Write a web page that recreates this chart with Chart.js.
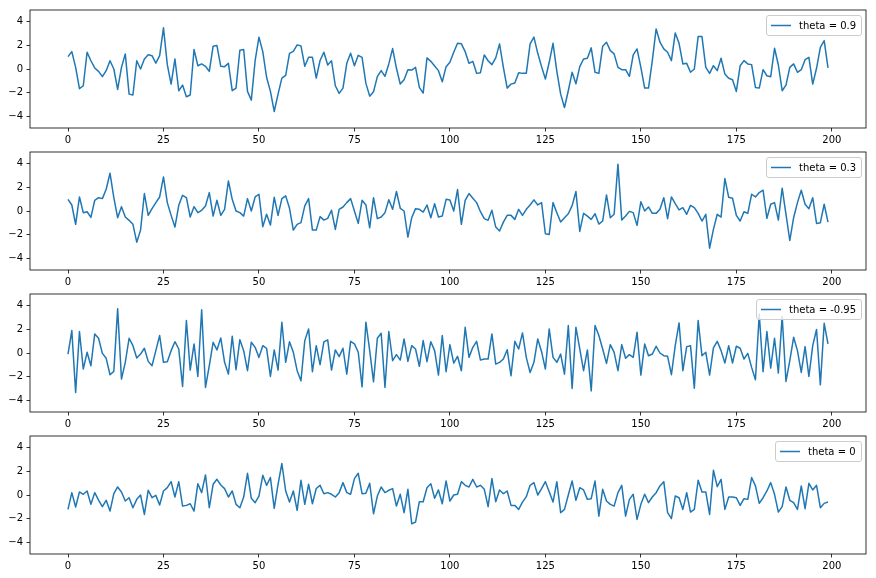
<!DOCTYPE html>
<html>
<head>
<meta charset="utf-8">
<script src="https://cdn.jsdelivr.net/npm/chart.js@4.4.1/dist/chart.umd.min.js"></script>
<style>
  html, body { margin: 0; padding: 0; background: #fff; overflow: hidden; }
  #wrap { position: relative; width: 876px; height: 578px; }
  canvas { position: absolute; left: 0; }
</style>
</head>
<body>
<div id="wrap">
  <canvas id="p0" width="876" height="150" style="top:0px"></canvas>
  <canvas id="p1" width="876" height="150" style="top:142px"></canvas>
  <canvas id="p2" width="876" height="150" style="top:284px"></canvas>
  <canvas id="p3" width="876" height="150" style="top:426px"></canvas>
</div>
<script>
// DATA
const thetaLabels = ['theta = 0.9', 'theta = 0.3', 'theta = -0.95', 'theta = 0'];
const xTicks = [0, 25, 50, 75, 100, 125, 150, 175, 200];
const yTicks = [-4, -2, 0, 2, 4];
const steps = Array.from({ length: 200 }, (_, i) => i);

const ma09 = [
  1.05, 1.47, 0.14, -1.67, -1.42, 1.42, 0.7, 0.09, -0.2, -0.65, -0.14, 0.7, 0, -1.73, 0.14, 1.28, -2.13, -2.2, 0.7, 0,
  0.85, 1.2, 1.13, 0.5, 1.13, 3.49, 0.37, -1.28, 0.85, -1.84, -1.36, -2.35, -2.2, 1.65, 0.28, 0.43, 0.23, -0.2, 1.93, 1.99,
  0.23, 0.2, 0.48, -1.84, -1.62, 1.59, 1.65, -1.9, -2.64, 0.7, 2.7, 1.47, -0.7, -1.9, -3.6, -2.13, -0.77, -0.54, 1.33, 1.5,
  2.04, 1.96, 0.23, 0.99, 0.99, -0.77, 0.72, 1.42, 0.34, 0.7, -1.42, -2.07, -1.62, 0.48, 1.33, 0.28, 1.16, 0.99, -1.22, -2.3,
  -1.93, -0.65, -0.14, -0.62, 0.43, 1.73, 0.06, -1.28, -0.91, -0.06, -0.09, 0.14, -1.56, -2.04, 0.94, 0.65, 0.26, -0.14, -1.08, 0.2,
  0.57, 1.42, 2.18, 2.13, 1.47, 0.48, 0.65, -0.37, -0.31, 1.19, 0.7, 0.37, 0.94, 2.13, 0.14, -1.62, -1.28, -1.19, -0.31, -0.37,
  -0.37, 2.13, 2.7, 1.33, 0.2, -0.85, 0.57, 2.18, -0.2, -2.13, -3.26, -1.84, -0.28, -1.25, 0.2, 0.85, 0.91, 1.79, -0.28, -0.37,
  1.93, 2.27, 1.56, 1.28, 0.14, -0.06, -0.06, -0.62, 1.19, 1.7, 0.14, -1.62, -1.62, 0.71, 3.4, 2.27, 1.7, 1.42, 0.71, 3.06,
  2.18, 0.43, 0.48, -0.28, 0, 2.75, 2.75, 0.14, -0.37, 0.28, -0.14, 0.91, -0.43, -0.79, -0.91, -1.9, 0.28, 0.71, 0.43, 0.37,
  -1.56, -1.62, -0.06, -0.57, -0.65, 1.76, 0.34, -1.84, -1.36, 0.14, 0.43, -0.28, -0.06, 0.79, 0.99, -1.28, 0.06, 1.84, 2.41, 0.09
];

const ma03 = [
  0.99, 0.51, -1.13, 1.19, -0.14, -0.06, -0.54, 0.91, 1.13, 1.05, 1.84, 3.2, 1.13, -0.57, 0.37, -0.51, -0.79, -1.13, -2.64, -1.62,
  1.48, -0.37, 0.2, 0.71, 1.19, 2.89, 0.71, -0.37, -1.36, 0.48, 1.33, 1.13, -0.51, 0.37, -0.14, 0.06, 0.43, 1.56, -0.43, 0.91,
  -0.37, 0.14, 2.55, 0.99, 0, -0.14, -0.43, 1.05, 0, 1.19, 1.42, -1.33, -0.28, -1.19, 1.16, -0.37, 1.05, 1.28, 0.23, -1.62,
  -1.13, -0.99, 0.43, 1.05, -1.62, -1.62, -0.48, -0.77, -0.62, 0.06, -1.56, 0.14, 0.34, 0.71, 1.05, 0, -1.05, 0.91, 0.51, -1.42,
  1.13, -0.65, -0.51, -0.14, 0.96, 0.14, 1.65, 0.23, 0, -2.21, -0.57, 0.2, 0.14, -0.09, 0.51, -0.57, 0.62, -0.51, -0.43, 0.99,
  0.94, 0, 1.82, -1.13, 0.91, 1.48, 1.08, 0.71, -0.06, -0.65, -0.79, 0.06, -1.36, -1.7, -0.94, -0.37, -0.37, -0.71, 0.14, -0.37,
  0.14, 0.51, 0.94, 0.51, 0.71, -1.93, -1.99, 0.71, -0.14, -0.94, -0.57, -0.23, 0.45, 1.65, -1.73, -0.2, -0.43, -0.71, -0.23, -1.11,
  -0.85, 1.36, -0.57, -0.28, 3.97, -0.77, -0.43, -0.03, -0.14, -1.22, 0.79, 0, 0.34, -0.2, -0.2, 0.14, 1.13, -0.65, 1.19, 0.62,
  0.09, 0.28, -0.28, 0.48, 0.28, -0.2, -0.85, -0.28, -3.15, -1.56, -0.28, -0.51, 2.75, 1.16, 1.08, -0.37, -0.85, -0.06, -0.2, 1.42,
  1.19, 1.56, 1.76, -0.62, 0.57, 0.71, -0.77, 1.93, -0.28, -2.5, -0.57, 0.71, 1.76, 0.57, 0.2, 1.13, -1.05, -0.99, 0.57, -0.94
];

const maNeg095 = [
  -0.09, 1.9, -3.35, 1.82, -1.36, 0.06, -1.08, 1.62, 1.25, -0.03, -0.45, -1.84, -1.56, 3.74, -2.21, -0.79, 1.25, 0.62, -0.43, -0.09,
  0.4, -0.71, -1.08, 0.2, 1.48, -0.79, -0.74, 0.2, 0.96, 0.34, -2.84, 2.75, -1.45, 0.77, -1.99, 3.66, -2.92, -1.08, 0.91, 0.26,
  1.28, -0.79, -1.79, 1.42, -1.42, 1.13, 0.2, -1.5, 0.91, 0.48, -0.37, 0.62, 0.4, -1.99, 0.26, -1.45, 2.61, -0.79, 0.96, 0.06,
  -1.5, -2.35, 1.05, 2.04, -1.59, 0.62, -0.99, 0.94, 1.11, -1.45, 0.26, -0.31, 0.4, -1.79, 0.99, 0.77, 0.06, -2.87, 2.61, 0.2,
  -2.44, 1.25, 1.67, -2.92, 1.82, -0.65, -0.14, -0.6, 1.19, -0.71, 0.62, 0.34, -1.13, 1.05, -0.74, 0.96, 0.2, -1.87, 1.48, -1.59,
  0.71, -0.85, -0.28, -1.5, 2.18, -0.37, 0.48, 0.99, -0.6, -0.51, -0.51, 1.62, -0.94, -0.79, -0.51, 0.28, -1.93, 0.99, 0.34, 1.7,
  -0.37, -1.65, -0.79, 1.19, 0.11, -1.36, 2.04, -0.37, -0.79, -0.09, -1.79, 2.33, -3.01, 2.18, 0.34, -1.5, 0.26, -3.21, 2.33, 1.48,
  0.34, -0.88, 0.71, 0.06, -1.5, 0.71, -0.45, -0.14, -0.37, 1.76, -1.87, 0.77, -0.23, -0.09, 0.57, 0, -0.23, -0.28, -1.84, 0.62,
  2.55, -1.5, 0.54, 0.62, -2.98, 2.75, -0.23, 0.06, -1.87, 0.43, 0.99, 0.2, -0.85, 0.62, -0.85, 0.57, 0.4, -0.51, -0.03, -1.22,
  -2.27, 3.3, -1.59, 1.82, -1.28, 1.25, -1.7, 3.1, -2.41, -0.65, 1.33, 0.2, -1.65, 0.54, -1.99, 0.62, 1.99, -2.7, 2.52, 0.77
];

const ma00 = [
  -1.22, 0.2, -1.02, 0.26, 0.06, 0.34, -0.79, 0.2, -0.43, -0.99, -0.45, -1.36, 0.11, 0.68, 0.26, -0.51, -0.23, -1.08, -0.37, 0,
  -1.65, 0.4, -0.23, -0.03, -0.85, 0.34, 0.62, 1.13, -0.17, 1.13, -0.94, -0.88, -0.74, -1.36, 0.96, 0.2, 1.7, -1.08, 0.91, 1.33,
  0.85, 0.54, -0.17, 0.34, -0.79, -1.08, -0.17, 1.84, -0.28, -0.65, -0.09, 1.67, 0.82, 1.48, -1.13, 0.91, 2.67, 0.34, -0.6, 0.34,
  -1.3, 1.25, -0.79, 0.91, -0.74, 0.55, 0.82, 0.11, 0.2, 0.06, -0.17, 0.2, 1.05, 0.2, 0.06, 1.39, 1.84, 0.11, 0.14, 0.99,
  -1.59, -0.09, 0.68, 0.2, 0.4, 0.54, -0.94, 0.06, -1.5, 0.48, -2.44, -2.3, -0.57, -0.57, 0.62, 0.96, -0.28, 0.43, -0.74, 1.19,
  -0.51, 0, 0.06, 1.13, 0.82, 0.68, 1.33, 0.68, 0.82, 0.48, -0.99, 1.39, -0.57, 0.43, 0.11, 0.34, -0.88, -0.88, -1.22, -0.6,
  -0.14, 0.82, 1.05, 0, 0.54, 1.13, 0.28, -0.6, 1.13, -1.5, -1.22, 0, 1.19, -0.45, 0.62, 0.43, -0.37, -0.31, 1.19, -1.79,
  0.48, -0.51, -0.79, -0.94, 0.2, 0.82, -1.79, -0.37, 0.06, -2.07, -0.79, 0.06, -0.65, -0.17, 0.2, 0.77, 1.13, -1.5, -2.01, -0.09,
  -0.23, -1.22, 0.2, -1.45, -1.22, 1.25, 0.26, 0.26, -1.65, 2.1, 0.71, 1.33, -1.22, -0.17, -0.17, -0.23, -0.88, -0.31, -0.37, 1.48,
  0.77, -0.71, -0.23, 0.34, 1.05, 0.06, -1.45, -0.99, 0.68, -0.45, -0.65, -1.22, 0.77, -1.16, 0.99, 0.43, 0.82, -1.08, -0.71, -0.6
];

const allSeries = [ma09, ma03, maNeg095, ma00];

// CHART SETUP
Chart.defaults.font.family = '"DejaVu Sans", sans-serif';
Chart.defaults.font.size = 10;
Chart.defaults.color = '#000';

// box around the axes + matplotlib-like legend in the upper right
const framePlugin = {
  id: 'frame',
  afterDraw(chart) {
    const { ctx, chartArea: a } = chart;
    ctx.save();
    ctx.strokeStyle = '#000';
    ctx.lineWidth = 0.8;
    ctx.strokeRect(a.left, a.top, a.right - a.left, a.bottom - a.top);

    const ds = chart.data.datasets[0];
    ctx.font = '10px "DejaVu Sans", sans-serif';
    const tw = ctx.measureText(ds.label).width;
    const w = Math.round(tw + 38), h = 20;
    const x = Math.round(a.right - 5 - w), y = Math.round(a.top + 5);
    ctx.fillStyle = 'rgba(255,255,255,0.8)';
    ctx.strokeStyle = '#cccccc';
    ctx.lineWidth = 1;
    ctx.beginPath();
    ctx.roundRect(x + 0.5, y + 0.5, w, h, 2.5);
    ctx.fill();
    ctx.stroke();
    ctx.strokeStyle = ds.borderColor;
    ctx.lineWidth = 1.5;
    ctx.beginPath();
    ctx.moveTo(x + 5, y + h / 2 + 0.5);
    ctx.lineTo(x + 25, y + h / 2 + 0.5);
    ctx.stroke();
    ctx.fillStyle = '#000';
    ctx.textBaseline = 'middle';
    ctx.fillText(ds.label, x + 33, y + h / 2 + 1);
    ctx.restore();
  }
};

function fmt(v) {
  return v < 0 ? '\u2212' + Math.abs(v) : String(v);
}

function makePanel(id, label, values) {
  const ctx = document.getElementById(id).getContext('2d');
  return new Chart(ctx, {
    type: 'line',
    data: {
      datasets: [{
        label: label,
        data: values.map((v, i) => ({ x: steps[i], y: v })),
        borderColor: '#1f77b4',
        borderWidth: 1.5,
        borderJoinStyle: 'round',
        pointRadius: 0,
        tension: 0,
        fill: false
      }]
    },
    options: {
      responsive: false,
      animation: false,
      devicePixelRatio: 1,
      layout: { padding: { top: 10, right: 10, left: 0, bottom: 0 } },
      plugins: { legend: { display: false }, tooltip: { enabled: false } },
      scales: {
        x: {
          type: 'linear',
          min: -9.95,
          max: 208.95,
          afterBuildTicks: axis => { axis.ticks = xTicks.map(v => ({ value: v })); },
          afterFit: axis => { axis.height = 22; },
          ticks: { padding: 3, maxRotation: 0, autoSkip: false, callback: v => fmt(v) },
          grid: { drawOnChartArea: false, drawTicks: true, tickLength: 3.5, color: '#000', lineWidth: 0.8 },
          border: { display: false }
        },
        y: {
          type: 'linear',
          min: -5,
          max: 5,
          afterBuildTicks: axis => { axis.ticks = yTicks.map(v => ({ value: v })); },
          afterFit: axis => { axis.width = 30; },
          ticks: { padding: 3.5, autoSkip: false, callback: v => fmt(v) },
          grid: { drawOnChartArea: false, drawTicks: true, tickLength: 3.5, color: '#000', lineWidth: 0.8 },
          border: { display: false }
        }
      }
    },
    plugins: [framePlugin]
  });
}

allSeries.forEach((vals, k) => makePanel('p' + k, thetaLabels[k], vals));
</script>
</body>
</html>
